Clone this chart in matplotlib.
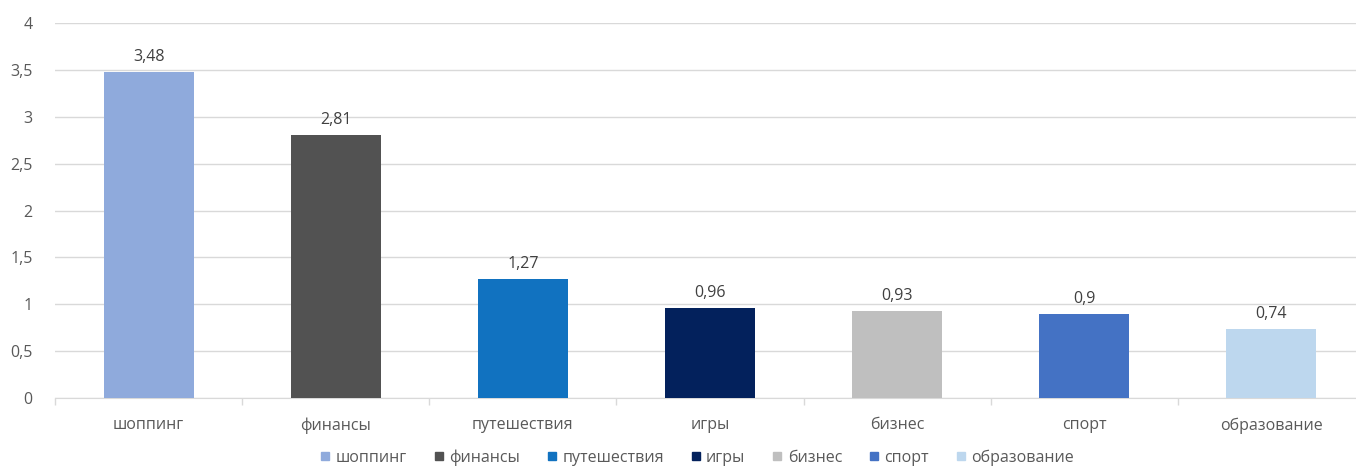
import matplotlib.pyplot as plt
from matplotlib.lines import Line2D
import numpy as np

# data
categories = ["шоппинг", "финансы", "путешествия", "игры", "бизнес", "спорт", "образование"]
values = [3.48, 2.81, 1.27, 0.96, 0.93, 0.9, 0.74]
colors = ["#8faadc", "#525252", "#1172c0", "#03215c", "#bfbfbf", "#4472c4", "#bdd7ee"]
y_ticks = [0, 0.5, 1, 1.5, 2, 2.5, 3, 3.5, 4]

# style
TEXT_COLOR = "#595959"
GRID_COLOR = "#d9d9d9"
FONT = ["Open Sans", "DejaVu Sans"]

plt.rcParams["font.family"] = FONT


def fmt(v):
    return f"{v:g}".replace(".", ",")


fig = plt.figure(figsize=(13.56, 4.71), dpi=100)
# plot area runs a little past the right edge, as in the source
ax = fig.add_axes([0.0406, 0.155, 0.966, 0.796])

x = np.arange(len(categories))
ax.bar(x, values, width=0.48, color=colors, zorder=3)

for xi, v in zip(x, values):
    ax.text(xi, v + 0.07, fmt(v), ha="center", va="bottom",
            fontsize=11.5, color="#404040")

ax.set_xlim(-0.5, len(categories) - 0.5)
ax.set_ylim(0, 4)
ax.set_yticks(y_ticks)
ax.set_yticklabels([fmt(t) for t in y_ticks])
ax.yaxis.grid(True, color=GRID_COLOR, linewidth=1, zorder=0)
ax.tick_params(axis="y", length=0, labelsize=11.5, labelcolor=TEXT_COLOR, pad=16)

ax.set_xticks(x)
ax.set_xticklabels(categories)
ax.tick_params(axis="x", length=0, labelsize=11.5, labelcolor=TEXT_COLOR, pad=14)
# boundary ticks between categories
ax.set_xticks(np.arange(-0.5, len(categories)), minor=True)
ax.tick_params(axis="x", which="minor", length=5, color=GRID_COLOR, width=1)

for side in ["top", "right", "left"]:
    ax.spines[side].set_visible(False)
ax.spines["bottom"].set_color(GRID_COLOR)

handles = [Line2D([], [], marker="s", linestyle="", markersize=6,
                  markerfacecolor=c, markeredgecolor=c) for c in colors]
fig.legend(handles, categories, loc="center", bbox_to_anchor=(0.513, 0.028),
           ncol=len(categories), frameon=False, fontsize=11.5,
           labelcolor=TEXT_COLOR, handletextpad=0.15, columnspacing=1.5,
           handlelength=1.0)

fig.savefig("out.png", dpi=100)
